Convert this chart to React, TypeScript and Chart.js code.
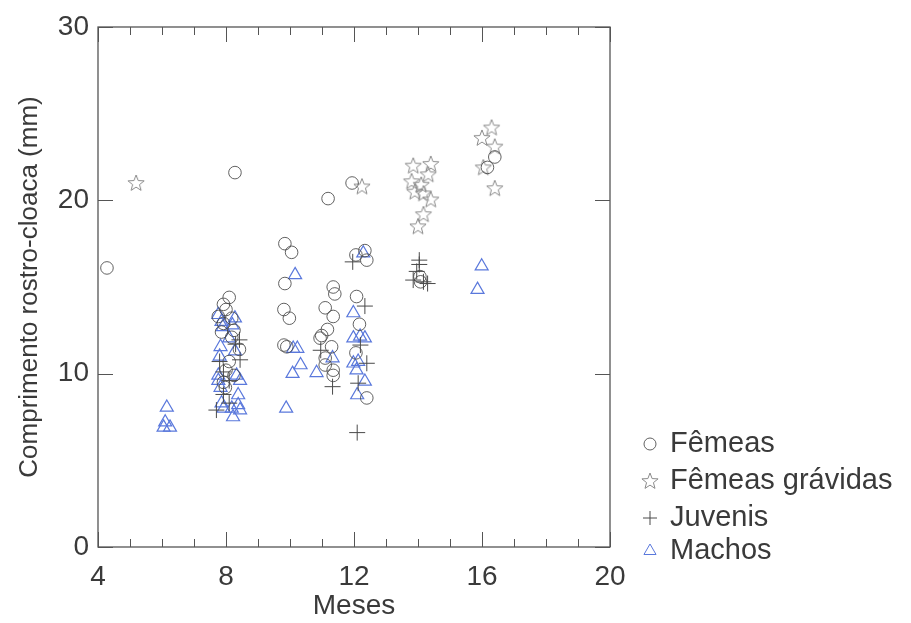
import React, { useEffect, useRef } from 'react';
import { Chart, registerables } from 'chart.js';
Chart.register(...registerables);

const xTicks = [4, 8, 12, 16, 20];
const yTicks = [0, 10, 20, 30];
const seriesNames = ['Fêmeas', 'Fêmeas grávidas', 'Juvenis', 'Machos'];

const femeas: [number, number][] = [
  [4.28, 16.1], [8.28, 21.6],
  [8.1, 14.4], [7.92, 14.0], [8.0, 13.7], [7.76, 13.3], [8.18, 13.2], [7.92, 12.9], [8.25, 12.5],
  [7.86, 12.4], [8.18, 12.1], [8.42, 11.4], [8.1, 10.7], [8.0, 10.2], [7.92, 9.5], [8.25, 9.9], [7.98, 9.2],
  [9.84, 17.5], [10.05, 17.0], [9.84, 15.2], [9.81, 13.7], [9.98, 13.2], [9.81, 11.65], [9.9, 11.55],
  [11.35, 15.0], [11.4, 14.6], [11.1, 13.8], [11.35, 13.3], [11.17, 12.55], [10.99, 12.2], [10.94, 12.05],
  [11.3, 11.55], [11.1, 10.9], [11.1, 10.5], [11.35, 10.2], [11.35, 9.9], [11.19, 20.1],
  [12.06, 16.85], [12.34, 17.1], [12.4, 16.55], [12.08, 14.45], [12.17, 12.85], [12.06, 11.2], [12.4, 8.6], [11.94, 21.0],
  [14.06, 15.6], [14.08, 15.3],
  [16.4, 22.5], [16.17, 21.9],
];

const gravidas: [number, number][] = [
  [5.19, 21.0], [12.25, 20.8],
  [13.85, 22.0], [14.4, 22.1], [14.32, 21.5], [13.8, 21.1], [14.1, 20.9], [13.9, 20.5], [14.17, 20.4],
  [14.4, 20.05], [14.17, 19.2], [14.0, 18.5],
  [16.3, 24.2], [16.0, 23.6], [16.4, 23.1], [16.04, 21.9], [16.4, 20.7],
];

const juvenis: [number, number][] = [
  [8.42, 11.95], [8.44, 10.8], [7.8, 10.7], [7.92, 10.1], [8.1, 9.6], [7.92, 8.8], [8.1, 8.3], [7.7, 7.9], [8.3, 11.7],
  [10.96, 11.35], [11.33, 9.25],
  [11.96, 16.45], [12.34, 13.9], [12.2, 11.65], [12.4, 10.6], [12.13, 9.45], [12.1, 6.6],
  [14.04, 16.55], [14.04, 16.3], [13.96, 15.9], [13.85, 15.4], [14.17, 15.3], [14.3, 15.2],
];

const machos: [number, number][] = [
  [6.05, 6.9], [6.15, 8.05], [6.1, 7.2], [6.25, 6.9],
  [7.76, 13.4], [7.86, 13.0], [8.28, 13.2], [8.1, 12.05], [7.83, 11.55], [8.28, 11.3], [7.8, 11.0],
  [7.76, 9.9], [7.76, 9.6], [8.33, 9.9], [8.44, 9.6], [7.83, 9.2], [8.38, 8.77], [7.86, 8.3], [7.92, 8.0],
  [8.18, 8.0], [8.38, 8.2], [8.22, 7.5], [8.44, 7.9], [7.9, 12.7], [8.2, 12.8],
  [10.16, 15.7], [10.1, 11.45], [10.23, 11.45], [10.33, 10.5], [10.08, 10.0], [10.83, 10.05], [9.88, 8.0],
  [11.33, 10.9],
  [11.98, 13.5], [11.98, 12.05], [12.19, 12.15], [12.34, 12.05], [11.98, 10.6], [12.13, 10.7], [12.08, 10.2],
  [12.34, 9.55], [12.1, 8.77], [12.29, 16.95],
  [15.99, 16.2], [15.86, 14.85],
];

const FONT = "'Liberation Sans', Arial, sans-serif";
const TEXT = '#3a3a3a';
const circleColor = 'rgba(70,70,70,0.85)';
const starColor = '#8a8a8a';
const crossColor = '#4a4a4a';
const triColor = '#5a78dc';

function makeStar(color: string): HTMLCanvasElement {
  const c = document.createElement('canvas');
  c.width = 20; c.height = 20;
  const ctx = c.getContext('2d')!;
  ctx.strokeStyle = color;
  ctx.lineWidth = 1;
  ctx.beginPath();
  for (let i = 0; i < 10; i++) {
    const r = i % 2 === 0 ? 8.5 : 3.6;
    const a = -Math.PI / 2 + (i * Math.PI) / 5;
    const px = 10 + r * Math.cos(a);
    const py = 10.5 + r * Math.sin(a);
    if (i === 0) ctx.moveTo(px, py); else ctx.lineTo(px, py);
  }
  ctx.closePath();
  ctx.stroke();
  return c;
}

export default function App() {
  const ref = useRef<HTMLCanvasElement>(null);
  useEffect(() => {
    const canvas = ref.current!;
    const star = makeStar(starColor);
    const toPts = (a: [number, number][]) => a.map(([x, y]) => ({ x, y }));

    const framePlugin = {
      id: 'frame',
      afterDatasetsDraw(chart: any) {
        const { ctx, chartArea: ca, scales } = chart;
        const xs = scales.x, ys = scales.y;
        ctx.save();
        ctx.strokeStyle = '#555';
        ctx.lineWidth = 1.3;
        ctx.strokeRect(ca.left, ca.top, ca.right - ca.left, ca.bottom - ca.top);
        ctx.lineWidth = 1;
        for (let m = xTicks[0]; m <= xTicks[xTicks.length - 1]; m++) {
          const px = Math.round(xs.getPixelForValue(m)) + 0.5;
          const len = xTicks.includes(m) ? 15 : 8;
          ctx.beginPath();
          ctx.moveTo(px, ca.bottom); ctx.lineTo(px, ca.bottom - len);
          ctx.moveTo(px, ca.top); ctx.lineTo(px, ca.top + len);
          ctx.stroke();
        }
        for (const v of yTicks) {
          const py = Math.round(ys.getPixelForValue(v)) + 0.5;
          ctx.beginPath();
          ctx.moveTo(ca.left, py); ctx.lineTo(ca.left + 15, py);
          ctx.moveTo(ca.right, py); ctx.lineTo(ca.right - 15, py);
          ctx.stroke();
        }
        ctx.restore();
      },
    };

    const legendPlugin = {
      id: 'customLegend',
      afterDraw(chart: any) {
        const { ctx } = chart;
        const mx = 650, tx = 670;
        const rows = [444, 481, 518, 551];
        ctx.save();
        ctx.font = `29px ${FONT}`;
        ctx.fillStyle = TEXT;
        ctx.textBaseline = 'middle';
        ctx.textAlign = 'left';
        chart.data.datasets.forEach((ds: any, i: number) => {
          const y = rows[i];
          ctx.strokeStyle = ds.borderColor;
          ctx.lineWidth = 1;
          if (i === 0) {
            ctx.beginPath(); ctx.arc(mx, y, 6, 0, Math.PI * 2); ctx.stroke();
          } else if (i === 1) {
            ctx.drawImage(star, mx - 10, y - 10);
          } else if (i === 2) {
            ctx.beginPath();
            ctx.moveTo(mx - 7, y); ctx.lineTo(mx + 7, y);
            ctx.moveTo(mx, y - 7); ctx.lineTo(mx, y + 7);
            ctx.stroke();
          } else {
            const r = 7;
            ctx.beginPath();
            ctx.moveTo(mx, y - r);
            ctx.lineTo(mx + r * 0.866, y + r * 0.5);
            ctx.lineTo(mx - r * 0.866, y + r * 0.5);
            ctx.closePath(); ctx.stroke();
          }
          ctx.fillText(ds.label, tx, y);
        });
        ctx.restore();
      },
    };

    const chart = new Chart(canvas, {
      type: 'scatter',
      data: {
        datasets: [
          { label: seriesNames[0], data: toPts(femeas), pointStyle: 'circle', pointRadius: 6.3, borderColor: circleColor, backgroundColor: 'rgba(0,0,0,0)', borderWidth: 1 },
          { label: seriesNames[1], data: toPts(gravidas), pointStyle: star as any, borderColor: starColor, backgroundColor: 'rgba(0,0,0,0)' },
          { label: seriesNames[2], data: toPts(juvenis), pointStyle: 'cross', pointRadius: 8, borderColor: crossColor, backgroundColor: 'rgba(0,0,0,0)', borderWidth: 1 },
          { label: seriesNames[3], data: toPts(machos), pointStyle: 'triangle', pointRadius: 7.5, borderColor: triColor, backgroundColor: 'rgba(0,0,0,0)', borderWidth: 1.2 },
        ],
      },
      options: {
        responsive: false,
        animation: false,
        layout: { padding: { left: 8, top: 27, right: 301, bottom: 0 } },
        plugins: { legend: { display: false }, tooltip: { enabled: false } },
        scales: {
          x: {
            type: 'linear', min: 4, max: 20,
            afterBuildTicks: (s: any) => { s.ticks = xTicks.map((v) => ({ value: v })); },
            afterFit: (s: any) => { s.height = 76; },
            grid: { display: false }, border: { display: false },
            ticks: { font: { family: FONT, size: 28 }, color: TEXT, padding: 5, maxRotation: 0 },
            title: { display: true, text: 'Meses', font: { family: FONT, size: 28 }, color: TEXT, padding: { top: 0, bottom: 0 } },
          },
          y: {
            type: 'linear', min: 0, max: 30,
            afterBuildTicks: (s: any) => { s.ticks = yTicks.map((v) => ({ value: v })); },
            afterFit: (s: any) => { s.width = 90; },
            grid: { display: false }, border: { display: false },
            ticks: { font: { family: FONT, size: 28 }, color: TEXT, padding: 1 },
            title: { display: true, text: 'Comprimento rostro-cloaca (mm)', font: { family: FONT, size: 26 }, color: TEXT, padding: { top: 6, bottom: 0 } },
          },
        },
      },
      plugins: [framePlugin, legendPlugin],
    });
    return () => chart.destroy();
  }, []);
  return (
    <div style={{ position: 'fixed', left: 0, top: 0, width: 911, height: 623, background: '#fff' }}>
      <canvas ref={ref} width={911} height={623} style={{ display: 'block' }} />
    </div>
  );
}
